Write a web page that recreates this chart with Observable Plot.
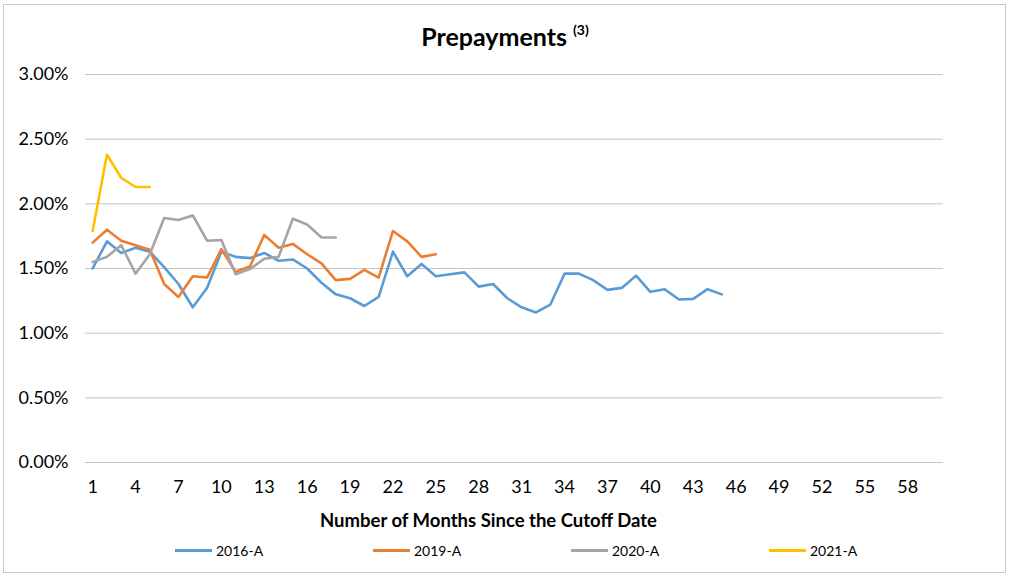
<!DOCTYPE html>
<html>
<head>
<meta charset="utf-8">
<script src="https://cdn.jsdelivr.net/npm/d3@7"></script>
<script src="https://cdn.jsdelivr.net/npm/@observablehq/plot@0.6"></script>
<style>
  html, body { margin: 0; padding: 0; background: #fff; }
  #wrap { position: relative; width: 1010px; height: 578px; overflow: hidden; font-family: "Lato", "Open Sans", sans-serif; }
  #frame { position: absolute; left: 3px; top: 4px; width: 1003px; height: 569px; border: 1px solid #c9c9c9; box-sizing: border-box; }
  #title { position: absolute; left: 0; width: 1010px; top: 21px; text-align: center; font-weight: bold; font-size: 25px; color: #000; line-height: 30px; }
  #title sup { font-size: 14px; vertical-align: 11px; line-height: 0; }
  #chart { position: absolute; left: 0; top: 55px; }
  #legend { position: absolute; left: 0; top: 540px; width: 1010px; height: 20px; }
  .item { position: absolute; top: 0; height: 20px; display: flex; align-items: center; font-size: 14px; color: #000; }
  .sw { width: 37px; height: 3px; margin-right: 4px; }
</style>
</head>
<body>
<div id="wrap">
  <div id="frame"></div>
  <div id="title">Prepayments <sup>(3)</sup></div>
  <div id="chart"></div>
  <div id="legend"></div>
</div>
<script>
const seriesNames = ["2016-A", "2019-A", "2020-A", "2021-A"];
const seriesColors = ["#5B9BD5", "#ED7D31", "#A5A5A5", "#FFC000"];
const s2016 = [1.50,1.71,1.62,1.66,1.63,1.51,1.38,1.20,1.35,1.63,1.59,1.58,1.62,1.56,1.57,1.50,1.39,1.30,1.27,1.21,1.28,1.63,1.44,1.535,1.44,1.455,1.47,1.36,1.38,1.27,1.20,1.16,1.22,1.46,1.46,1.41,1.335,1.35,1.445,1.32,1.34,1.26,1.265,1.34,1.30];
const s2019 = [1.70,1.80,1.715,1.68,1.645,1.38,1.28,1.44,1.43,1.65,1.475,1.515,1.76,1.66,1.69,1.61,1.54,1.41,1.42,1.49,1.43,1.79,1.71,1.59,1.61];
const s2020 = [1.55,1.59,1.68,1.46,1.61,1.89,1.875,1.91,1.715,1.72,1.455,1.495,1.575,1.59,1.885,1.84,1.74,1.74];
const s2021 = [1.79,2.38,2.20,2.13,2.13];
const xTicks = [1,4,7,10,13,16,19,22,25,28,31,34,37,40,43,46,49,52,55,58];
const yTicks = [0,0.5,1,1.5,2,2.5,3];
const nMonths = 60;
const xLabel = "Number of Months Since the Cutoff Date";

const allSeries = [s2016, s2019, s2020, s2021];
const rows = [];
allSeries.forEach((vals, si) => vals.forEach((v, i) => rows.push({series: seriesNames[si], month: i + 1, value: v})));

const plot = Plot.plot({
  width: 1010,
  height: 480,
  marginLeft: 85,
  marginRight: 67,
  marginTop: 19,
  marginBottom: 73,
  style: {fontFamily: "Lato, 'Open Sans', sans-serif", fontSize: "18px", color: "#000", background: "transparent"},
  x: {domain: [0.5, nMonths + 0.5], ticks: xTicks, label: null},
  y: {domain: [0, 3], ticks: yTicks, label: null},
  color: {domain: seriesNames, range: seriesColors},
  marks: [
    Plot.gridY(yTicks, {stroke: "#c4c4c4", strokeOpacity: 1, strokeWidth: 1}),
    Plot.axisY({ticks: yTicks, tickSize: 0, tickPadding: 17, tickFormat: d => d.toFixed(2) + "%", fontSize: 18, label: null}),
    Plot.axisX({ticks: xTicks, tickSize: 0, tickPadding: 18, fontSize: 18, label: null}),
    Plot.line(rows, {x: "month", y: "value", z: "series", stroke: "series", strokeWidth: 2.6, strokeLinejoin: "round", strokeLinecap: "round"}),
    Plot.text([xLabel], {frameAnchor: "bottom", dy: 64, dx: -26, text: d => d, fontWeight: "bold", fontSize: 18.5})
  ]
});
document.getElementById("chart").appendChild(plot);

const legend = document.getElementById("legend");
seriesNames.forEach((name, i) => {
  const it = document.createElement("div");
  it.className = "item";
  it.style.left = (175 + i * 198) + "px";
  const sw = document.createElement("span");
  sw.className = "sw";
  sw.style.background = seriesColors[i];
  const tx = document.createElement("span");
  tx.textContent = name;
  it.appendChild(sw); it.appendChild(tx);
  legend.appendChild(it);
});
</script>
</body>
</html>
